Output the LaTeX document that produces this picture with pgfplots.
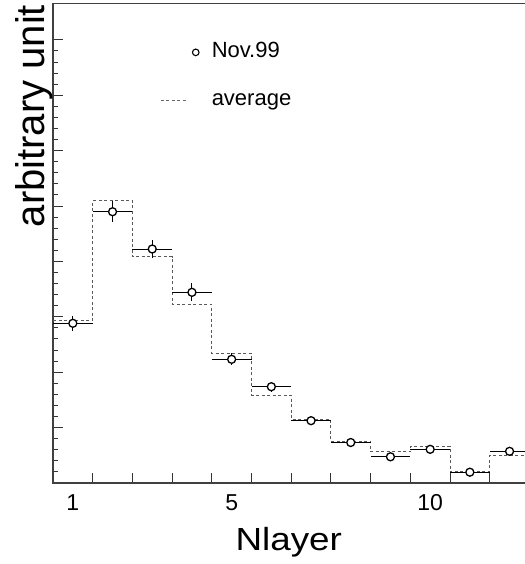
\documentclass[border=0pt]{standalone}
\usepackage{pgfplots}
\pgfplotsset{compat=1.18}
\usepackage{fontspec}
\setmainfont{Liberation Sans}

% data points (Nov.99) and the average histogram
\pgfplotstableread{
x  y     ex  ey
1  2.883 0.5 0.14
2  4.897 0.5 0.19
3  4.224 0.5 0.17
4  3.442 0.5 0.16
5  2.233 0.5 0.11
6  1.738 0.5 0.09
7  1.125 0.5 0.07
8  0.731 0.5 0.05
9  0.473 0.5 0.04
10 0.608 0.5 0.04
11 0.195 0.5 0.03
12 0.572 0.5 0.04
}\novdata

\begin{document}
\begin{tikzpicture}
\path[use as bounding box] (0,0) rectangle (524pt,564pt);
\begin{axis}[
    at={(53pt,81pt)}, anchor=south west,
    scale only axis,
    width=476.4pt, height=479.7pt,
    xmin=0.5, xmax=12.5,
    ymin=0, ymax=8.66,
    axis line style={black!75, line width=1.2pt},
    tick style={black!80, line width=1pt},
    major tick length=10pt,
    minor tick length=5pt,
    xtick={1.5,2.5,...,11.5}, xticklabels={},
    extra x ticks={1,5,10},
    extra x tick labels={1,5,10},
    extra x tick style={major tick length=0pt},
    xtick pos=bottom,
    ytick={0,1,...,8}, yticklabels={},
    minor y tick num=4,
    ytick pos=left,
    xticklabel style={font=\fontsize{23}{27}\selectfont, yshift=-8pt},
    xlabel={Nlayer},
    xlabel style={at={(axis description cs:0.495,0)}, anchor=base, yshift=-67pt,
        font=\fontsize{32}{36}\selectfont, xscale=1.15},
    ylabel={arbitrary unit},
    ylabel style={at={(axis description cs:-0.0168,1.004)}, anchor=base east,
        font=\fontsize{40}{44}\selectfont},
    legend style={at={(axis description cs:0.2247,0.92)}, anchor=north west,
        draw=none, fill=none, inner sep=0pt, column sep=11pt, row sep=27pt,
        nodes={inner sep=0pt, text height=16pt, text depth=5pt},
        font=\fontsize{22}{26}\selectfont},
    legend cell align=left,
]
% legend entries
\addlegendimage{legend image code/.code={
    \path[draw=none] (0pt,0pt) -- (40pt,0pt);
    \draw[black, line width=1.1pt, fill=white] (35pt,0pt) circle (3.3pt);}}
\addlegendentry{Nov.99}
\addlegendimage{legend image code/.code={
    \path[draw=none] (0pt,0pt) -- (40pt,0pt);
    \draw[black!60, line width=1pt, dash pattern=on 3pt off 2.5pt] (0pt,0pt) -- (27pt,0pt);}}
\addlegendentry{average}

% average histogram
\addplot[forget plot, const plot, black!65, line width=1pt, dash pattern=on 3pt off 2.5pt]
    coordinates {
    (0.5,2.942) (1.5,5.096) (2.5,4.085) (3.5,3.231) (4.5,2.341) (5.5,1.588)
    (6.5,1.150) (7.5,0.758) (8.5,0.563) (9.5,0.659) (10.5,0.202) (11.5,0.505)
    (12.5,0.505)
    };

% Nov.99 data with errors
\addplot[forget plot, only marks, black, mark=*, mark size=4pt,
    mark options={fill=white, draw=black, line width=1.3pt},
    error bars/.cd, x dir=both, x explicit, y dir=both, y explicit,
    error mark=none, error bar style={black, line width=1pt}]
    table[x=x, y=y, x error=ex, y error=ey] {\novdata};
\end{axis}
\end{tikzpicture}
\end{document}
